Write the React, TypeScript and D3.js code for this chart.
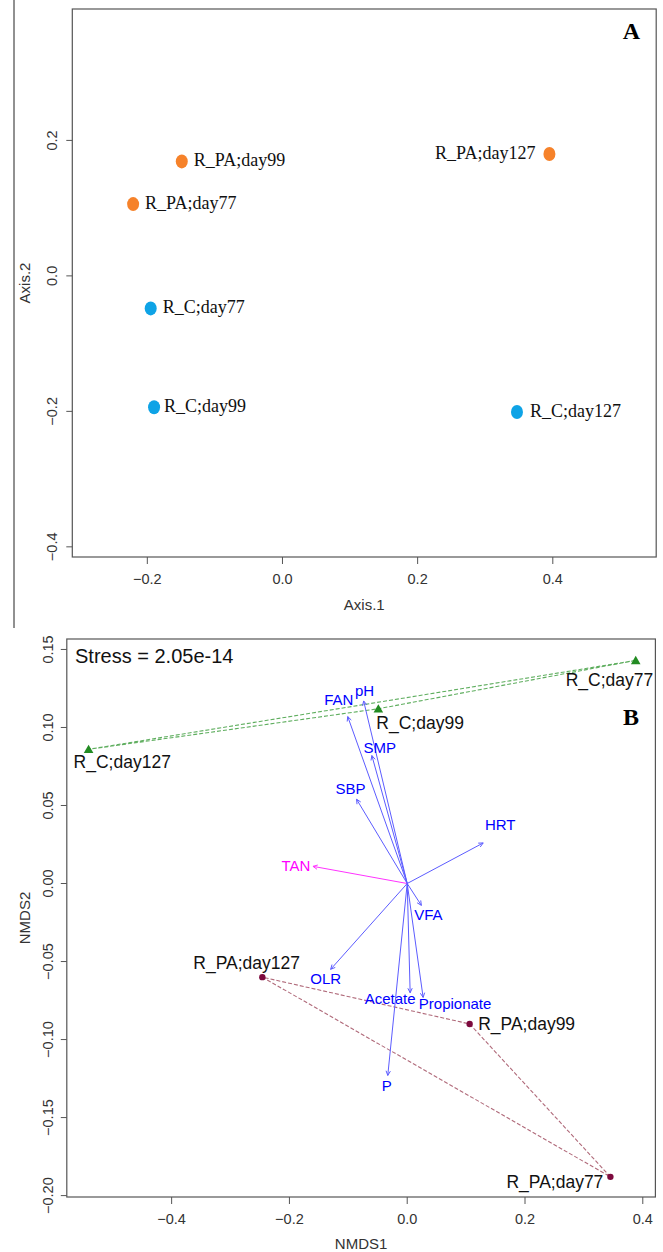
import React from 'react'
import * as d3 from 'd3'

// panel A: PCoA
const pcoaSamples = ['R_PA;day99', 'R_PA;day127', 'R_PA;day77', 'R_C;day77', 'R_C;day99', 'R_C;day127']
const pcoaAxis1 = [-0.149, 0.395, -0.221, -0.195, -0.19, 0.347]
const pcoaAxis2 = [0.169, 0.18, 0.106, -0.048, -0.194, -0.201]
const pcoaGroup = ['PA', 'PA', 'PA', 'C', 'C', 'C']
const pcoaXTicks = [-0.2, 0.0, 0.2, 0.4]
const pcoaYTicks = [0.2, 0.0, -0.2, -0.4]

// panel B: NMDS + envfit
const nmdsSamples = ['R_C;day77', 'R_C;day99', 'R_C;day127', 'R_PA;day127', 'R_PA;day99', 'R_PA;day77']
const nmds1 = [0.388, -0.049, -0.541, -0.246, 0.106, 0.345]
const nmds2 = [0.143, 0.112, 0.086, -0.06, -0.09, -0.188]
const nmdsGroup = ['C', 'C', 'C', 'PA', 'PA', 'PA']
const envVars = ['FAN', 'pH', 'SMP', 'SBP', 'HRT', 'TAN', 'VFA', 'OLR', 'Acetate', 'Propionate', 'P']
const envX = [-0.101, -0.074, -0.06, -0.086, 0.129, -0.16, 0.024, -0.13, 0.005, 0.027, -0.033]
const envY = [0.107, 0.117, 0.082, 0.054, 0.026, 0.011, -0.014, -0.055, -0.07, -0.073, -0.123]
const nmdsXTicks = [-0.4, -0.2, 0.0, 0.2, 0.4]
const nmdsYTicks = [0.15, 0.1, 0.05, 0.0, -0.05, -0.1, -0.15, -0.2]
const stressText = 'Stress = 2.05e-14'

// label nudges in px (layout only)
const pcoaLabelNudge: Record<string, [number, number, string]> = {
  'R_PA;day99': [12, 5, 'start'],
  'R_PA;day127': [-14, 5, 'end'],
  'R_PA;day77': [12, 5, 'start'],
  'R_C;day77': [12, 5, 'start'],
  'R_C;day99': [10, 5, 'start'],
  'R_C;day127': [13, 5, 'start']
}
const nmdsLabelNudge: Record<string, [number, number]> = {
  'R_C;day77': [-70, 26],
  'R_C;day99': [-2, 20],
  'R_C;day127': [-15, 18.5],
  'R_PA;day127': [-69, -8],
  'R_PA;day99': [8.5, 6],
  'R_PA;day77': [-104, 11]
}
const envLabelNudge: Record<string, [number, number]> = {
  FAN: [-9, -12],
  pH: [1, -5],
  SMP: [8, -3],
  SBP: [-6, -5],
  HRT: [17, -13],
  TAN: [-17, 5],
  VFA: [7, 15],
  OLR: [-5, 15],
  Acetate: [-20, 11],
  Propionate: [32, 12],
  P: [-1, 16]
}

const SANS = 'Arial, "Liberation Sans", sans-serif'
const SERIF = '"Times New Roman", "Liberation Serif", serif'
const AXIS_COL = '#555'
const TICK_TXT = '#333'

const groupColA: Record<string, string> = { PA: '#f6822a', C: '#0ea3e6' }
const groupColB: Record<string, string> = { PA: '#7d0a3e', C: '#228b22' }
const hullColB: Record<string, string> = { PA: '#b06a7a', C: '#5fae5f' }

function Arrow({ x1, y1, x2, y2, color }: { x1: number; y1: number; x2: number; y2: number; color: string }) {
  const ang = Math.atan2(y2 - y1, x2 - x1)
  const len = 5
  const a1 = ang + Math.PI - Math.PI / 7
  const a2 = ang + Math.PI + Math.PI / 7
  return (
    <g stroke={color} strokeWidth={1} fill='none'>
      <line x1={x1} y1={y1} x2={x2} y2={y2} />
      <polyline
        points={`${x2 + len * Math.cos(a1)},${y2 + len * Math.sin(a1)} ${x2},${y2} ${x2 + len * Math.cos(a2)},${y2 + len * Math.sin(a2)}`}
      />
    </g>
  )
}

export default function App() {
  // panel A frame
  const A = { left: 72.3, right: 656.2, top: 9, bottom: 557 }
  const xA = d3.scaleLinear().domain([-0.311, 0.553]).range([A.left, A.right])
  const yA = d3.scaleLinear().domain([0.394, -0.415]).range([A.top, A.bottom])

  // panel B frame
  const B = { left: 66.8, right: 655.4, top: 639, bottom: 1197 }
  const xB = d3.scaleLinear().domain([-0.578, 0.4214]).range([B.left, B.right])
  const yB = d3.scaleLinear().domain([0.1567, -0.2009]).range([B.top, B.bottom])

  const fmt1 = d3.format('.1f')
  const fmt2 = d3.format('.2f')

  const hulls = ['C', 'PA'].map(g => {
    const pts = nmdsSamples
      .map((s, i) => [xB(nmds1[i]), yB(nmds2[i])] as [number, number])
      .filter((_, i) => nmdsGroup[i] === g)
    const hull = d3.polygonHull(pts) || pts
    return { g, d: 'M' + hull.map(p => p.join(',')).join('L') + 'Z' }
  })

  return (
    <svg
      width={663}
      height={1252}
      style={{ position: 'absolute', left: 0, top: 0, background: '#fff' }}
      fontFamily={SANS}>
      <rect width={663} height={1252} fill='#fff' />

      {/* ---------- panel A ---------- */}
      <line x1={14} x2={14} y1={0} y2={628} stroke='#222' strokeWidth={1} />
      <rect
        x={A.left}
        y={A.top}
        width={A.right - A.left}
        height={A.bottom - A.top}
        fill='none'
        stroke={AXIS_COL}
        strokeWidth={1.2}
      />
      {pcoaXTicks.map(t => (
        <g key={t}>
          <line x1={xA(t)} x2={xA(t)} y1={A.bottom} y2={A.bottom + 7} stroke={AXIS_COL} />
          <text x={xA(t)} y={583.5} textAnchor='middle' fontSize={14.5} fill={TICK_TXT}>
            {fmt1(t)}
          </text>
        </g>
      ))}
      {pcoaYTicks.map(t => (
        <g key={t}>
          <line x1={A.left} x2={A.left - 6} y1={yA(t)} y2={yA(t)} stroke={AXIS_COL} />
          <text
            transform={`translate(57,${yA(t)}) rotate(-90)`}
            textAnchor='middle'
            fontSize={14.5}
            fill={TICK_TXT}>
            {fmt1(t)}
          </text>
        </g>
      ))}
      <text x={(A.left + A.right) / 2} y={610} textAnchor='middle' fontSize={15} fill={TICK_TXT}>
        Axis.1
      </text>
      <text
        transform={`translate(30,${(A.top + A.bottom) / 2}) rotate(-90)`}
        textAnchor='middle'
        fontSize={15}
        fill={TICK_TXT}>
        Axis.2
      </text>
      {pcoaSamples.map((s, i) => {
        const cx = xA(pcoaAxis1[i])
        const cy = yA(pcoaAxis2[i])
        const [dx, dy, anchor] = pcoaLabelNudge[s]
        return (
          <g key={s}>
            <ellipse cx={cx} cy={cy} rx={6} ry={7} fill={groupColA[pcoaGroup[i]]} />
            <text
              x={cx + dx}
              y={cy + dy}
              textAnchor={anchor}
              fontFamily={SERIF}
              fontSize={18}
              fill='#111'>
              {s}
            </text>
          </g>
        )
      })}
      <text x={640} y={39} textAnchor='end' fontFamily={SERIF} fontWeight='bold' fontSize={24} fill='#000'>
        A
      </text>

      {/* ---------- panel B ---------- */}
      <rect
        x={B.left}
        y={B.top}
        width={B.right - B.left}
        height={B.bottom - B.top}
        fill='none'
        stroke={AXIS_COL}
        strokeWidth={1.2}
      />
      {nmdsXTicks.map(t => (
        <g key={t}>
          <line x1={xB(t)} x2={xB(t)} y1={B.bottom} y2={B.bottom + 7} stroke={AXIS_COL} />
          <text x={xB(t)} y={1223.5} textAnchor='middle' fontSize={14.5} fill={TICK_TXT}>
            {fmt1(t)}
          </text>
        </g>
      ))}
      {nmdsYTicks.map(t => (
        <g key={t}>
          <line x1={B.left} x2={B.left - 6} y1={yB(t)} y2={yB(t)} stroke={AXIS_COL} />
          <text
            transform={`translate(53,${yB(t)}) rotate(-90)`}
            textAnchor='middle'
            fontSize={14.5}
            fill={TICK_TXT}>
            {fmt2(t)}
          </text>
        </g>
      ))}
      <text x={(B.left + B.right) / 2} y={1249} textAnchor='middle' fontSize={15} fill={TICK_TXT}>
        NMDS1
      </text>
      <text
        transform={`translate(30,${(B.top + B.bottom) / 2}) rotate(-90)`}
        textAnchor='middle'
        fontSize={15}
        fill={TICK_TXT}>
        NMDS2
      </text>
      <text x={75} y={663} fontSize={20} fill='#111'>
        {stressText}
      </text>
      <text x={639} y={725} textAnchor='end' fontFamily={SERIF} fontWeight='bold' fontSize={24} fill='#000'>
        B
      </text>

      {hulls.map(h => (
        <path
          key={h.g}
          d={h.d}
          fill='none'
          stroke={hullColB[h.g]}
          strokeWidth={1.1}
          strokeDasharray='4,2'
        />
      ))}

      {envVars.map((v, i) => {
        const col = v === 'TAN' ? '#ff33ff' : '#5c5cff'
        const tx = xB(envX[i])
        const ty = yB(envY[i])
        const [dx, dy] = envLabelNudge[v]
        return (
          <g key={v}>
            <Arrow x1={xB(0)} y1={yB(0)} x2={tx} y2={ty} color={col} />
            <text
              x={tx + dx}
              y={ty + dy}
              textAnchor='middle'
              fontSize={15}
              fill={v === 'TAN' ? '#ff00ff' : '#0000ff'}>
              {v}
            </text>
          </g>
        )
      })}

      {nmdsSamples.map((s, i) => {
        const cx = xB(nmds1[i])
        const cy = yB(nmds2[i])
        const [dx, dy] = nmdsLabelNudge[s]
        const g = nmdsGroup[i]
        return (
          <g key={s}>
            {g === 'C' ? (
              <path d={d3.symbol(d3.symbolTriangle, 40)() || ''} transform={`translate(${cx},${cy + 1})`} fill={groupColB[g]} />
            ) : (
              <circle cx={cx} cy={cy} r={3.2} fill={groupColB[g]} />
            )}
            <text x={cx + dx} y={cy + dy} fontSize={17.5} fill='#111'>
              {s}
            </text>
          </g>
        )
      })}
    </svg>
  )
}
